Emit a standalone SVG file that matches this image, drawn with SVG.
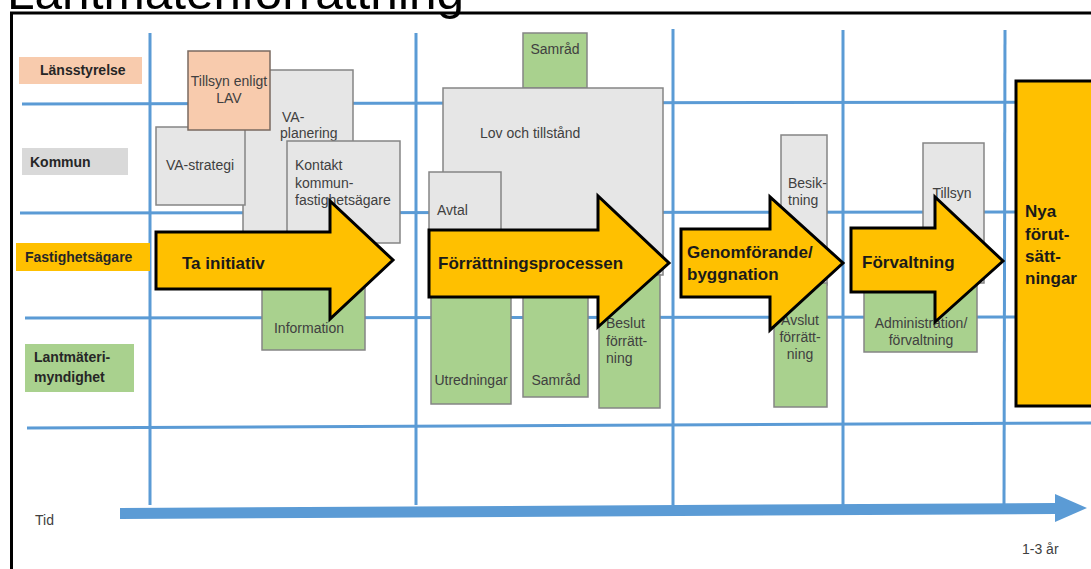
<svg xmlns="http://www.w3.org/2000/svg" width="1091" height="569" viewBox="0 0 1091 569">
<style>
.grid{stroke:#5B9BD5;stroke-width:3;fill:none}
.gray{fill:#E6E6E6;stroke:#858585;stroke-width:1.5}
.green{fill:#A9D18E;stroke:#858585;stroke-width:1.5}
.peach{fill:#F8CBAD;stroke:#7a6a60;stroke-width:1.5}
.arrow{fill:#FFC000;stroke:#000;stroke-width:3;stroke-linejoin:miter}
.t{font-family:"Liberation Sans",Arial,sans-serif;font-size:14px;fill:#404040}
.c{text-anchor:middle}
.lab{font-family:"Liberation Sans",Arial,sans-serif;font-size:14px;font-weight:bold;fill:#262626}
.big{font-family:"Liberation Sans",Arial,sans-serif;font-size:17px;font-weight:bold;fill:#1a1a1a}
</style>
<rect width="1091" height="569" fill="#fff"/>
<text x="7" y="9" font-family="Liberation Sans,Arial,sans-serif" font-size="48" textLength="457" lengthAdjust="spacingAndGlyphs" fill="#000">Lantmäteriförrättning</text>
<path d="M11.5,569 V13 H1091" fill="none" stroke="#000" stroke-width="3"/>

<g id="grid">
<line class="grid" x1="150" y1="33" x2="150" y2="505"/>
<line class="grid" x1="416" y1="33" x2="416" y2="505"/>
<line class="grid" x1="673" y1="29" x2="673" y2="505"/>
<line class="grid" x1="843" y1="30" x2="843" y2="505"/>
<line class="grid" x1="1005" y1="30" x2="1004" y2="505"/>
<line class="grid" x1="22" y1="104" x2="1091" y2="102"/>
<line class="grid" x1="20" y1="213" x2="1091" y2="212"/>
<line class="grid" x1="25" y1="318" x2="1091" y2="317"/>
<line class="grid" x1="27" y1="428" x2="1091" y2="423"/>
</g>

<g id="timeaxis">
<path d="M120,508 L1055,503 L1055,494 L1087,508 L1055,522 L1055,514 L120,519 Z" fill="#5B9BD5"/>
<text class="t" x="35" y="525" font-size="13">Tid</text>
<text class="t" x="1022" y="554" font-size="13">1-3 år</text>
</g>

<g id="lane-lansstyrelse"><rect x="19" y="57" width="123" height="27" fill="#F8CBAD"/><text class="lab" x="40" y="75">Länsstyrelse</text></g>
<g id="lane-kommun"><rect x="22" y="148" width="106" height="27" fill="#D9D9D9"/><text class="lab" x="30" y="167">Kommun</text></g>
<g id="lane-fastighetsagare"><rect x="16" y="243" width="134" height="28" fill="#FFC000"/><text class="lab" x="25" y="262">Fastighetsägare</text></g>
<g id="lane-lantmateri"><rect x="25" y="344" width="109" height="48" fill="#A9D18E"/><text class="lab" x="34" y="362">Lantmäteri-</text><text class="lab" x="34" y="382">myndighet</text></g>

<g id="va-planering"><rect class="gray" x="243" y="70" width="110" height="190"/><text class="t" x="282" y="122">VA-</text><text class="t" x="280" y="138">planering</text></g>
<g id="va-strategi"><rect class="gray" x="156" y="127" width="89" height="78"/><text class="t c" x="200" y="170">VA-strategi</text></g>
<g id="tillsyn-lav"><rect class="peach" x="188" y="51" width="82" height="79"/><text class="t c" x="229" y="86">Tillsyn enligt</text><text class="t c" x="229" y="103">LAV</text></g>
<g id="kontakt"><rect class="gray" x="287" y="141" width="113" height="102"/><text class="t" x="295" y="170">Kontakt</text><text class="t" x="295" y="188">kommun-</text><text class="t" x="295" y="205">fastighetsägare</text></g>
<g id="information"><rect class="green" x="262" y="280" width="103" height="70"/><text class="t c" x="309" y="333">Information</text></g>

<g id="samrad-top"><rect class="green" x="523" y="33" width="64" height="55"/><text class="t c" x="555" y="54">Samråd</text></g>
<g id="lov"><rect class="gray" x="443" y="88" width="220" height="187"/><text class="t" x="480" y="138">Lov och tillstånd</text></g>
<g id="avtal"><rect class="gray" x="429" y="172" width="72" height="70"/><text class="t" x="437" y="215">Avtal</text></g>
<g id="utredningar"><rect class="green" x="431" y="290" width="80" height="114"/><text class="t c" x="471" y="385">Utredningar</text></g>
<g id="samrad-low"><rect class="green" x="523" y="290" width="65" height="107"/><text class="t c" x="556" y="385">Samråd</text></g>
<g id="beslut"><rect class="green" x="599" y="275" width="61" height="133"/><text class="t" x="606" y="328">Beslut</text><text class="t" x="606" y="346">förrätt-</text><text class="t" x="606" y="363">ning</text></g>

<g id="besiktning"><rect class="gray" x="781" y="135" width="46" height="150"/><text class="t" x="788" y="188">Besik-</text><text class="t" x="788" y="205">tning</text></g>
<g id="avslut"><rect class="green" x="774" y="283" width="53" height="124"/><text class="t c" x="800" y="325">Avslut</text><text class="t c" x="800" y="342">förrätt-</text><text class="t c" x="800" y="359">ning</text></g>
<g id="tillsyn"><rect class="gray" x="923" y="143" width="61" height="140"/><text class="t c" x="952" y="198">Tillsyn</text></g>
<g id="administration"><rect class="green" x="864" y="282" width="113" height="70"/><text class="t c" x="921" y="328">Administration/</text><text class="t c" x="921" y="345">förvaltning</text></g>

<g id="nya"><rect x="1016" y="81" width="80" height="325" fill="#FFC000" stroke="#000" stroke-width="3"/><text class="big" x="1025" y="217">Nya</text><text class="big" x="1025" y="240">förut-</text><text class="big" x="1025" y="262">sätt-</text><text class="big" x="1025" y="284">ningar</text></g>

<g id="connectors">
<g id="arrow-ta-initiativ"><path class="arrow" d="M156,232 H330 V201 L393,260 L330,319 V289 H156 Z"/><text class="big" x="182" y="269">Ta initiativ</text></g>
<g id="arrow-forrattning"><path class="arrow" d="M429,230 H598 V196 L669,263 L598,327 V297 H429 Z"/><text class="big" x="438" y="269">Förrättningsprocessen</text></g>
<g id="arrow-genomforande"><path class="arrow" d="M681,229 H770 V197 L843,263 L770,330 V297 H681 Z"/><text class="big" x="687" y="258">Genomförande/</text><text class="big" x="687" y="280">byggnation</text></g>
<g id="arrow-forvaltning"><path class="arrow" d="M851,228 H935 V197 L1003,261 L935,322 V292 H851 Z"/><text class="big" x="862" y="268">Förvaltning</text></g>
</g>
</svg>
